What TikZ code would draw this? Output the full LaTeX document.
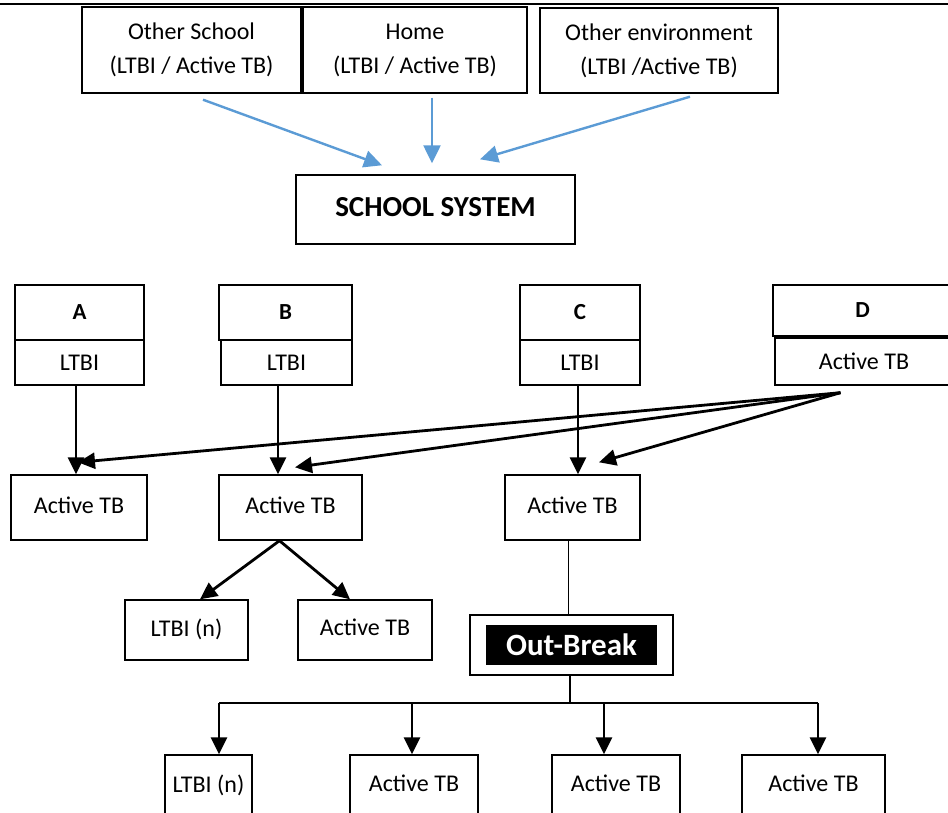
\documentclass[tikz,border=0pt]{standalone}
\usepackage{fontspec}
\setmainfont{Carlito}
\usetikzlibrary{arrows.meta}
\definecolor{arrowblue}{HTML}{5B9BD5}
\newcommand{\upr}[1]{\raisebox{5pt}{#1}}
\begin{document}
\begin{tikzpicture}[x=1pt,y=-1pt,
  box/.style={draw, line width=1.4pt, inner sep=0pt, align=center,
    font=\fontsize{24}{34}\selectfont},
  lbl/.style={box, font=\fontsize{23}{28}\selectfont\bfseries},
  arr/.style={line width=2.8pt, -{Triangle[length=17pt,width=16pt]}},
  barr/.style={arrowblue, line width=2.4pt, -{Triangle[length=18pt,width=17pt]}},
  thin/.style={line width=1.6pt}]
\useasboundingbox (0,0) rectangle (948,813);
\draw[line width=2.4pt] (0,4) coordinate (tl) -- (948,4) coordinate (tr);
% top boxes
\node[box, minimum width=219pt, minimum height=86pt] (os) at (191.5,50) {Other School\\(LTBI / Active TB)};
\node[box, minimum width=224pt, minimum height=86pt] (home) at (415,50) {Home\\(LTBI / Active TB)};
\node[box, minimum width=238pt, minimum height=85pt] (oenv) at (659,50.5) {Other environment\\(LTBI /Active TB)};
\node[box, minimum width=279pt, minimum height=69pt, font=\fontsize{29}{34}\selectfont\bfseries] (ss) at (435.5,209.5) {\upr{SCHOOL SYSTEM}};
% blue arrows
\draw[barr] ([xshift=11.5pt,yshift=-6pt]os.south) -- ([xshift=-53.5pt,yshift=9pt]ss.north);
\draw[barr] ([xshift=17pt,yshift=-4pt]home.south) -- ([xshift=-3.5pt,yshift=11pt]ss.north);
\draw[barr] ([xshift=31pt,yshift=-3pt]oenv.south) -- ([xshift=44.5pt,yshift=15pt]ss.north);
% group boxes
\node[lbl, minimum width=129pt, minimum height=55pt] (gA) at (79.5,312.5) {A};
\node[box, minimum width=129pt, minimum height=45pt] (lA) at (79.5,362.5) {LTBI};
\node[lbl, minimum width=133pt, minimum height=55pt] (gB) at (285.5,312.5) {B};
\node[box, minimum width=131pt, minimum height=45pt] (lB) at (286.5,362.5) {LTBI};
\node[lbl, minimum width=120pt, minimum height=55pt] (gC) at (580,312.5) {C};
\node[box, minimum width=120pt, minimum height=45pt] (lC) at (580,362.5) {LTBI};
\node[lbl, minimum width=187pt, minimum height=51pt] (gD) at (866.5,310.5) {\hspace*{-8pt}D};
\node[box, minimum width=185pt, minimum height=47pt] (lD) at (867.5,361.5) {\hspace*{-7pt}Active TB};
% second level
\node[box, minimum width=136pt, minimum height=65pt] (tA) at (79,507.5) {\upr{Active TB}};
\node[box, minimum width=143pt, minimum height=65pt] (tB) at (290.5,507.5) {\upr{Active TB}};
\node[box, minimum width=135pt, minimum height=65pt] (tC) at (572.5,507.5) {\upr{Active TB}};
\draw[arr] ([xshift=-3.5pt]lA.south) -- ([xshift=-3.5pt]lA.south |- tA.north);
\draw[arr] ([xshift=-8.5pt]lB.south) -- ([xshift=-8.5pt]lB.south |- tB.north);
\draw[arr] ([xshift=-2pt]lC.south) -- ([xshift=-2pt]lC.south |- tC.north);
\coordinate (dsrc) at ([xshift=-27pt,yshift=-7pt]lD.south);
\draw[arr] (dsrc) -- ([xshift=-1pt,yshift=12pt]tA.north);
\draw[arr] (dsrc) -- ([xshift=4.5pt,yshift=7pt]tB.north);
\draw[arr] (dsrc) -- ([xshift=26.5pt,yshift=12pt]tC.north);
% B split
\node[box, minimum width=123pt, minimum height=60pt] (nB1) at (186.5,630) {\upr{LTBI (n)}};
\node[box, minimum width=134pt, minimum height=60pt] (nB2) at (365,630) {\upr{Active TB}};
\coordinate (bsrc) at ([xshift=-11pt]tB.south);
\draw[arr] (bsrc) -- ([xshift=13.5pt]nB1.north);
\draw[arr] (bsrc) -- ([xshift=-15pt]nB2.north);
% outbreak
\node[draw, line width=1.8pt, minimum width=203pt, minimum height=60pt, inner sep=0pt] (ob) at (571.5,645) {};
\node[fill=black, text=white, minimum width=171pt, minimum height=40pt, inner sep=0pt,
  font=\fontsize{31}{34}\selectfont\bfseries] (obi) at (ob.center) {Out-Break};
\draw[thin] ([xshift=-4pt]tC.south) -- ([xshift=-4pt]tC.south |- ob.north);
% bottom
\node[box, minimum width=87pt, minimum height=62pt] (b1) at (208.5,786) {\upr{LTBI (n)}};
\node[box, minimum width=128pt, minimum height=62pt] (b2) at (414,786) {\upr{Active TB}};
\node[box, minimum width=128pt, minimum height=62pt] (b3) at (616,786) {\upr{Active TB}};
\node[box, minimum width=143pt, minimum height=62pt] (b4) at (813.5,786) {\upr{Active TB}};
\coordinate (bus) at ([xshift=-1.5pt,yshift=-27pt]ob.south);
\draw[thin] ([xshift=-1.5pt]ob.south) -- (bus);
\draw[line width=2.4pt] ([xshift=10.5pt]b1.north |- bus) -- ([xshift=4.5pt]b4.north |- bus);
\draw[arr] ([xshift=10.5pt]b1.north |- bus) -- ([xshift=10.5pt]b1.north);
\draw[arr] ([xshift=-2pt]b2.north |- bus) -- ([xshift=-2pt]b2.north);
\draw[arr] ([xshift=-12pt]b3.north |- bus) -- ([xshift=-12pt]b3.north);
\draw[arr] ([xshift=4.5pt]b4.north |- bus) -- ([xshift=4.5pt]b4.north);
\end{tikzpicture}
\end{document}
